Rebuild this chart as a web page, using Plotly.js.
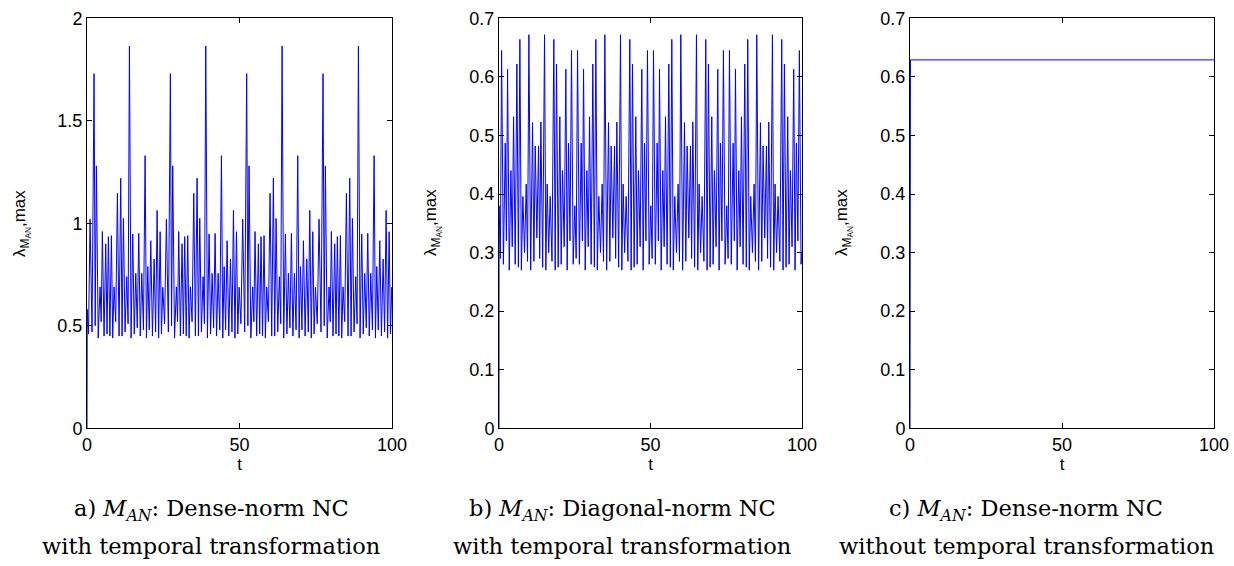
<!DOCTYPE html>
<html>
<head>
<meta charset="utf-8">
<script src="https://cdn.plot.ly/plotly-3.0.1.min.js"></script>
<style>html,body{margin:0;padding:0;background:#fff;}#chart{width:1234px;height:566px;}</style>
</head>
<body>
<div id="chart"></div>
<script>
// ---- Panel a: Dense-norm NC with temporal transformation ----
const aT = [0,0.08,0.5,
1.00,1.65,2.31,2.69,3.07,3.67,4.28,4.66,5.04,5.59,6.14,6.57,7.01,7.50,8.00,8.43,8.87,9.42,9.97,10.51,11.06,11.50,11.94,12.48,13.03,13.47,13.91,14.45,15.00,15.49,15.99,16.48,16.97,17.46,17.96,18.50,19.05,19.49,19.93,20.42,20.91,21.46,22.01,22.50,22.99,23.48,23.98,24.41,24.85,25.44,
26.03,26.68,27.34,27.72,28.10,28.70,29.31,29.69,30.07,30.62,31.17,31.60,32.04,32.53,33.03,33.46,33.90,34.45,35.00,35.54,36.09,36.53,36.97,37.51,38.06,38.50,38.94,39.48,40.03,40.52,41.02,41.51,42.00,42.49,42.99,43.53,44.08,44.52,44.96,45.45,45.94,46.49,47.04,47.53,48.02,48.51,49.01,49.44,49.88,50.47,
51.05,51.70,52.36,52.74,53.12,53.72,54.33,54.71,55.09,55.64,56.19,56.62,57.06,57.55,58.05,58.48,58.92,59.47,60.02,60.56,61.11,61.55,61.99,62.53,63.08,63.52,63.96,64.50,65.05,65.54,66.04,66.53,67.02,67.51,68.01,68.55,69.10,69.54,69.98,70.47,70.96,71.51,72.06,72.55,73.04,73.53,74.03,74.46,74.90,75.49,
76.08,76.73,77.39,77.77,78.15,78.75,79.36,79.74,80.12,80.67,81.22,81.65,82.09,82.58,83.08,83.51,83.95,84.50,85.05,85.59,86.14,86.58,87.02,87.56,88.11,88.55,88.99,89.53,90.08,90.57,91.07,91.56,92.05,92.54,93.04,93.58,94.13,94.57,95.01,95.50,95.99,96.54,97.09,97.58,98.07,98.56,99.06,99.49,99.93,100];
const aY = [0,0.58,0.46,
1.02,0.47,1.73,0.50,1.28,0.44,0.69,0.52,0.96,0.45,0.90,0.46,0.935,0.45,0.94,0.44,0.69,0.52,1.146,0.45,1.22,0.45,1.024,0.47,0.74,0.51,1.865,0.44,0.948,0.46,0.756,0.49,0.951,0.45,0.756,0.48,1.33,0.44,0.789,0.48,0.915,0.45,0.826,0.47,1.063,0.44,0.959,0.46,0.688,0.51,
1.02,0.47,1.73,0.50,1.28,0.44,0.69,0.52,0.96,0.45,0.90,0.46,0.935,0.45,0.94,0.44,0.69,0.52,1.146,0.45,1.22,0.45,1.024,0.47,0.74,0.51,1.865,0.44,0.948,0.46,0.756,0.49,0.951,0.45,0.756,0.48,1.33,0.44,0.789,0.48,0.915,0.45,0.826,0.47,1.063,0.44,0.959,0.46,0.688,0.51,
1.02,0.47,1.73,0.50,1.28,0.44,0.69,0.52,0.96,0.45,0.90,0.46,0.935,0.45,0.94,0.44,0.69,0.52,1.146,0.45,1.22,0.45,1.024,0.47,0.74,0.51,1.865,0.44,0.948,0.46,0.756,0.49,0.951,0.45,0.756,0.48,1.33,0.44,0.789,0.48,0.915,0.45,0.826,0.47,1.063,0.44,0.959,0.46,0.688,0.51,
1.02,0.47,1.73,0.50,1.28,0.44,0.69,0.52,0.96,0.45,0.90,0.46,0.935,0.45,0.94,0.44,0.69,0.52,1.146,0.45,1.22,0.45,1.024,0.47,0.74,0.51,1.865,0.44,0.948,0.46,0.756,0.49,0.951,0.45,0.756,0.48,1.33,0.44,0.789,0.48,0.915,0.45,0.826,0.47,1.063,0.44,0.959,0.46,0.688,0.66];

// ---- Panel b: Diagonal-norm NC with temporal transformation ----
const bT = [0,0.03,0.45,
0.85,1.45,2.06,2.45,2.83,3.38,3.93,4.37,4.81,5.35,5.90,6.40,6.89,7.38,7.88,8.43,8.98,9.42,9.86,10.46,11.07,11.51,11.95,12.50,13.05,13.43,13.82,14.42,15.03,15.46,15.90,16.40,16.89,17.49,18.10,18.54,18.98,19.53,20.08,20.52,20.96,21.51,22.06,22.50,22.94,23.43,23.93,24.48,25.03,25.47,
25.92,26.52,27.13,27.52,27.90,28.45,29.00,29.44,29.88,30.42,30.97,31.47,31.96,32.45,32.95,33.50,34.05,34.49,34.93,35.53,36.14,36.58,37.02,37.57,38.12,38.50,38.89,39.49,40.10,40.53,40.97,41.47,41.96,42.56,43.17,43.61,44.05,44.60,45.15,45.59,46.03,46.58,47.13,47.57,48.01,48.50,49.00,49.55,50.10,50.54,
50.99,51.59,52.20,52.59,52.97,53.52,54.07,54.51,54.95,55.49,56.04,56.54,57.03,57.52,58.02,58.57,59.12,59.56,60.00,60.60,61.21,61.65,62.09,62.64,63.19,63.57,63.96,64.56,65.17,65.60,66.04,66.54,67.03,67.63,68.24,68.68,69.12,69.67,70.22,70.66,71.10,71.65,72.20,72.64,73.08,73.57,74.07,74.62,75.17,75.61,
76.06,76.66,77.27,77.66,78.04,78.59,79.14,79.58,80.02,80.56,81.11,81.61,82.10,82.59,83.09,83.64,84.19,84.63,85.07,85.67,86.28,86.72,87.16,87.71,88.26,88.64,89.03,89.63,90.24,90.67,91.11,91.61,92.10,92.70,93.31,93.75,94.19,94.74,95.29,95.73,96.17,96.72,97.27,97.71,98.15,98.64,99.14,99.69,100];
const bY = [0,0.38,0.29,
0.645,0.28,0.487,0.32,0.613,0.27,0.44,0.31,0.532,0.28,0.622,0.275,0.664,0.27,0.396,0.30,0.417,0.285,0.672,0.27,0.522,0.285,0.482,0.325,0.482,0.29,0.523,0.275,0.672,0.27,0.417,0.30,0.396,0.285,0.664,0.27,0.622,0.275,0.532,0.28,0.44,0.31,0.613,0.27,0.487,0.32,0.645,0.28,0.38,0.29,
0.645,0.28,0.487,0.32,0.613,0.27,0.44,0.31,0.532,0.28,0.622,0.275,0.664,0.27,0.396,0.30,0.417,0.285,0.672,0.27,0.522,0.285,0.482,0.325,0.482,0.29,0.523,0.275,0.672,0.27,0.417,0.30,0.396,0.285,0.664,0.27,0.622,0.275,0.532,0.28,0.44,0.31,0.613,0.27,0.487,0.32,0.645,0.28,0.38,0.29,
0.645,0.28,0.487,0.32,0.613,0.27,0.44,0.31,0.532,0.28,0.622,0.275,0.664,0.27,0.396,0.30,0.417,0.285,0.672,0.27,0.522,0.285,0.482,0.325,0.482,0.29,0.523,0.275,0.672,0.27,0.417,0.30,0.396,0.285,0.664,0.27,0.622,0.275,0.532,0.28,0.44,0.31,0.613,0.27,0.487,0.32,0.645,0.28,0.38,0.29,
0.645,0.28,0.487,0.32,0.613,0.27,0.44,0.31,0.532,0.28,0.622,0.275,0.664,0.27,0.396,0.30,0.417,0.285,0.672,0.27,0.522,0.285,0.482,0.325,0.482,0.29,0.523,0.275,0.672,0.27,0.417,0.30,0.396,0.285,0.664,0.27,0.622,0.275,0.532,0.28,0.44,0.31,0.613,0.27,0.487,0.32,0.645,0.28,0.30];

// ---- Panel c: Dense-norm NC without temporal transformation ----
const cT = [0,0.15,100];
const cY = [0,0.629,0.629];

// ---- Tick labels and texts ----
const xTicks = [0,50,100];
const xTickText = ['0','50','100'];
const aYTicks = [0,0.5,1,1.5,2];
const aYTickText = ['0','0.5','1','1.5','2'];
const bcYTicks = [0,0.1,0.2,0.3,0.4,0.5,0.6,0.7];
const bcYTickText = ['0','0.1','0.2','0.3','0.4','0.5','0.6','0.7'];
const xTitle = 't';
const yTitle = 'λ<sub>M<sub>AN</sub></sub>,max';
const captions = [
  ['a) <i>M</i><sub><i>AN</i></sub>: Dense-norm NC', 'with temporal transformation'],
  ['b) <i>M</i><sub><i>AN</i></sub>: Diagonal-norm NC', 'with temporal transformation'],
  ['c) <i>M</i><sub><i>AN</i></sub>: Dense-norm NC', 'without temporal transformation']
];

const W = 1234, H = 566;
const sans = '"Liberation Sans", Arial, Helvetica, sans-serif';
const serif = '"DejaVu Serif", "Liberation Serif", serif';
const lineStyle = {color: '#0000ff', width: 1};

const traces = [
  {x: aT, y: aY, xaxis: 'x', yaxis: 'y', type: 'scatter', mode: 'lines', line: lineStyle, hoverinfo: 'skip'},
  {x: bT, y: bY, xaxis: 'x2', yaxis: 'y2', type: 'scatter', mode: 'lines', line: lineStyle, hoverinfo: 'skip'},
  {x: cT, y: cY, xaxis: 'x3', yaxis: 'y3', type: 'scatter', mode: 'lines', line: lineStyle, hoverinfo: 'skip'}
];

const plotX = [[87, 392], [499, 802], [910, 1214]];
const plotYTop = 18.3, plotYBot = 428.3;
const yDom = [1 - plotYBot / H, 1 - plotYTop / H];

function xAx(i) {
  return {
    domain: [plotX[i][0] / W, plotX[i][1] / W],
    range: [0, 100], tickvals: xTicks, ticktext: xTickText,
    ticks: 'inside', ticklen: 5, tickwidth: 1, tickcolor: '#000',
    showline: true, linecolor: '#000', linewidth: 1, mirror: 'ticks',
    showgrid: false, zeroline: false,
    tickfont: {family: sans, size: 18, color: '#000'},
    title: {text: xTitle, font: {family: sans, size: 17, color: '#000'}, standoff: 2},
    anchor: i === 0 ? 'y' : 'y' + (i + 1)
  };
}
function yAx(i) {
  const a = i === 0;
  return {
    domain: yDom,
    range: a ? [0, 2] : [0, 0.7],
    tickvals: a ? aYTicks : bcYTicks, ticktext: a ? aYTickText : bcYTickText,
    ticks: 'inside', ticklen: 5, tickwidth: 1, tickcolor: '#000',
    showline: true, linecolor: '#000', linewidth: 1, mirror: 'ticks',
    showgrid: false, zeroline: false,
    tickfont: {family: sans, size: 18, color: '#000'},
    anchor: i === 0 ? 'x' : 'x' + (i + 1)
  };
}

const annotations = [];
const yTitleX = [21, 432, 843];
const capCenter = [211, 622, 1026];
for (let i = 0; i < 3; i++) {
  annotations.push({
    xref: 'paper', yref: 'paper', x: yTitleX[i] / W, y: 1 - 223 / H,
    xanchor: 'center', yanchor: 'middle', textangle: -90, showarrow: false,
    text: yTitle, font: {family: sans, size: 17, color: '#000'}
  });
  annotations.push({
    xref: 'paper', yref: 'paper', x: capCenter[i] / W, y: 1 - 510 / H,
    xanchor: 'center', yanchor: 'middle', showarrow: false,
    text: captions[i][0], font: {family: serif, size: 22.5, color: '#000'}
  });
  annotations.push({
    xref: 'paper', yref: 'paper', x: capCenter[i] / W, y: 1 - 546 / H,
    xanchor: 'center', yanchor: 'middle', showarrow: false,
    text: captions[i][1], font: {family: serif, size: 22.5, color: '#000'}
  });
}

const layout = {
  width: W, height: H,
  margin: {l: 0, r: 0, t: 0, b: 0, pad: 0},
  paper_bgcolor: '#fff', plot_bgcolor: '#fff',
  showlegend: false,
  xaxis: xAx(0), yaxis: yAx(0),
  xaxis2: xAx(1), yaxis2: yAx(1),
  xaxis3: xAx(2), yaxis3: yAx(2),
  annotations: annotations
};

Plotly.newPlot('chart', traces, layout, {staticPlot: true, displayModeBar: false});
</script>
</body>
</html>
